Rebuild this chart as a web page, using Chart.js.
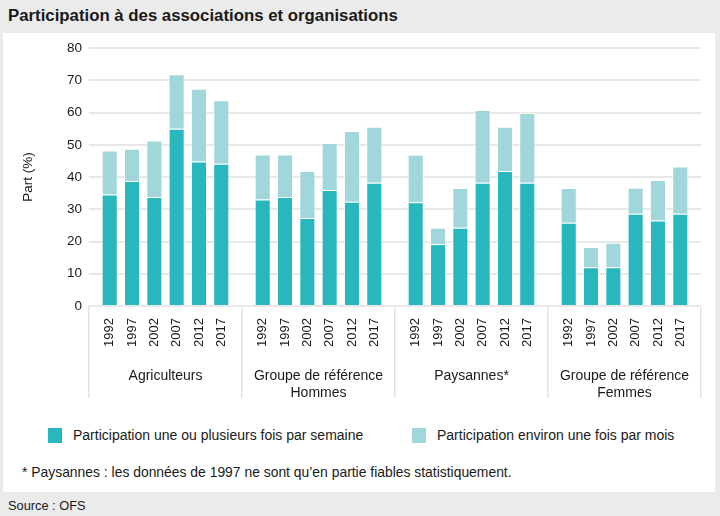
<!DOCTYPE html>
<html><head><meta charset="utf-8">
<script src="https://cdn.jsdelivr.net/npm/chart.js@4"></script>
<style>
body{margin:0;width:720px;height:516px;background:#ebebeb;position:relative;overflow:hidden;font-family:'Liberation Sans',Arial,sans-serif;color:#1a1a1a;}
#title{position:absolute;left:8px;top:4px;font-size:16.8px;font-weight:bold;line-height:24px;white-space:nowrap;}
#panel{position:absolute;left:3px;top:33px;width:712px;height:459px;background:#fff;}
#chartBox{position:absolute;left:0;top:0;width:712px;height:377px;}
.leg{position:absolute;top:392px;height:20px;line-height:20px;font-size:14px;white-space:nowrap;}
.leg span.box{position:absolute;left:0;top:2.5px;width:14px;height:15px;}
.leg span.txt{position:absolute;left:25px;top:0;}
#note{position:absolute;left:19px;top:429px;line-height:20px;font-size:13.9px;white-space:nowrap;}
#source{position:absolute;left:8px;top:496px;line-height:20px;font-size:12.8px;white-space:nowrap;}
</style></head>
<body>
<div id="title">Participation à des associations et organisations</div>
<div id="panel">
  <div id="chartBox"><canvas id="c"></canvas></div>
  <div class="leg" id="leg0" style="left:45px"><span class="box"></span><span class="txt"></span></div>
  <div class="leg" id="leg1" style="left:409px"><span class="box"></span><span class="txt"></span></div>
  <div id="note">* Paysannes : les données de 1997 ne sont qu’en partie fiables statistiquement.</div>
</div>
<div id="source">Source : OFS</div>
<script>
const groups = [['Agriculteurs'], ['Groupe de référence', 'Hommes'], ['Paysannes*'], ['Groupe de référence', 'Femmes']];
const years = ['1992', '1997', '2002', '2007', '2012', '2017'];
const seriesLabels = ['Participation une ou plusieurs fois par semaine', 'Participation environ une fois par mois'];

// weekly = "une ou plusieurs fois par semaine", monthly = "environ une fois par mois" (stacked on top)
const weeklyAgriculteurs = [34.6, 38.8, 33.8, 55.0, 44.8, 44.1];
const monthlyAgriculteurs = [13.6, 10.0, 17.5, 16.9, 22.6, 19.7];
const weeklyHommes = [33.0, 33.8, 27.3, 36.0, 32.3, 38.2];
const monthlyHommes = [14.0, 13.2, 14.6, 14.6, 22.0, 17.4];
const weeklyPaysannes = [32.2, 19.2, 24.3, 38.2, 41.9, 38.2];
const monthlyPaysannes = [14.7, 5.1, 12.3, 22.6, 13.7, 21.7];
const weeklyFemmes = [25.8, 12.0, 12.0, 28.6, 26.5, 28.6];
const monthlyFemmes = [10.8, 6.3, 7.6, 8.1, 12.6, 14.7];

const yMin = 0, yMax = 80, yStep = 10;

const COLORS = ['#27b7bd', '#a1d6da'];
const FONT = "'Liberation Sans', Arial, sans-serif";
const TEXT = '#1a1a1a';

const weekly = [weeklyAgriculteurs, weeklyHommes, weeklyPaysannes, weeklyFemmes];
const monthly = [monthlyAgriculteurs, monthlyHommes, monthlyPaysannes, monthlyFemmes];

const datasets = [];
years.forEach((yr, j) => {
  [weekly, monthly].forEach((src, s) => {
    datasets.push({
      label: seriesLabels[s],
      yearIndex: j,
      series: s,
      stack: 'y' + yr,
      data: src.map(g => g[j]),
      backgroundColor: COLORS[s],
      borderColor: 'rgba(255,255,255,0.55)',
      borderWidth: 1,
      categoryPercentage: 0.875,
      barPercentage: 0.72
    });
  });
});

// HTML legend from the series
[0, 1].forEach(s => {
  const el = document.getElementById('leg' + s);
  el.querySelector('.box').style.background = COLORS[s];
  el.querySelector('.txt').textContent = seriesLabels[s];
});

const yearLabels = {
  id: 'yearLabels',
  afterDatasetsDraw(chart) {
    const { ctx, chartArea } = chart;
    ctx.save();
    ctx.font = '13px ' + FONT;
    ctx.fillStyle = TEXT;
    ctx.textAlign = 'right';
    ctx.textBaseline = 'middle';
    chart.data.datasets.forEach((ds, di) => {
      if (ds.series !== 0) return;
      chart.getDatasetMeta(di).data.forEach(bar => {
        ctx.save();
        ctx.translate(bar.x, chartArea.bottom + 12);
        ctx.rotate(-Math.PI / 2);
        ctx.fillText(years[ds.yearIndex], 0, 0);
        ctx.restore();
      });
    });
    ctx.restore();
  }
};

Chart.defaults.font.family = FONT;
Chart.defaults.font.size = 14;
Chart.defaults.color = TEXT;

new Chart(document.getElementById('c'), {
  type: 'bar',
  data: { labels: groups, datasets },
  options: {
    responsive: true,
    maintainAspectRatio: false,
    animation: false,
    layout: { padding: { top: 10, right: 14, left: 0, bottom: 0 } },
    plugins: { legend: { display: false }, tooltip: { enabled: false } },
    scales: {
      x: {
        stacked: true,
        offset: true,
        border: { display: false },
        grid: { offset: true, drawOnChartArea: false, drawTicks: true, tickLength: 92, color: '#e3e3e3', lineWidth: 1.5 },
        ticks: { padding: -30.4, font: { size: 14 }, maxRotation: 0, autoSkip: false },
        afterFit(scale) { scale.height = 104; }
      },
      y: {
        stacked: true,
        min: yMin, max: yMax,
        border: { display: false },
        grid: { color: '#e8e8e8', lineWidth: 2, drawTicks: false },
        ticks: { stepSize: yStep, padding: 7, font: { size: 13.5 } },
        title: { display: true, text: 'Part (%)', font: { size: 13.5 }, padding: { top: 17, bottom: 0 } },
        afterFit(scale) { scale.width = 86; }
      }
    }
  },
  plugins: [yearLabels]
});
</script>
</body></html>
